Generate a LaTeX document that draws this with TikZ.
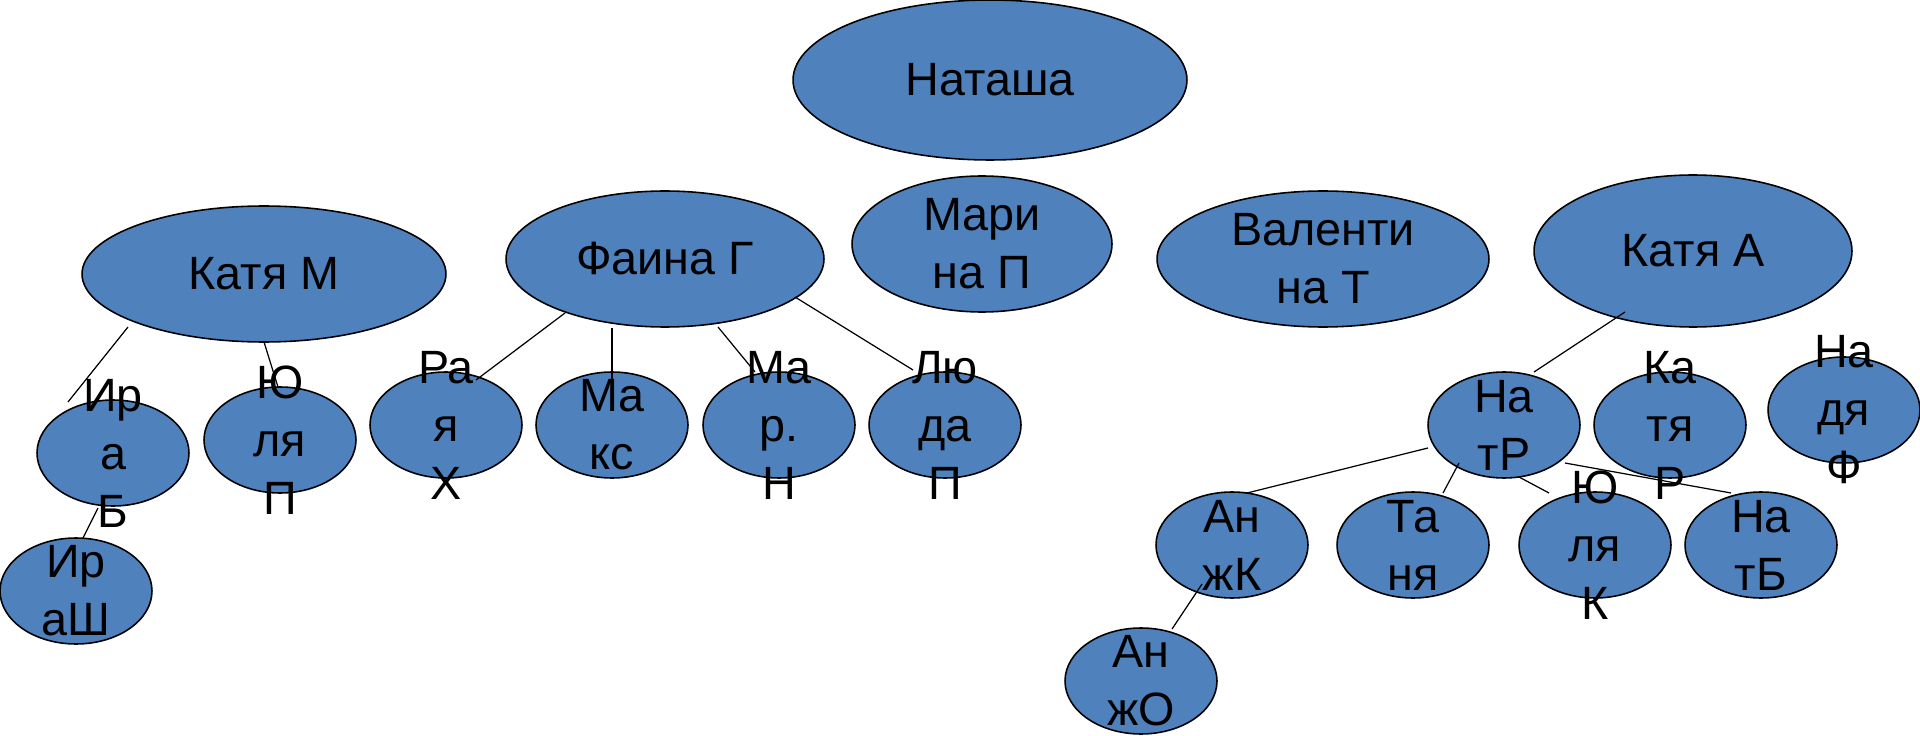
\documentclass[tikz,border=0pt]{standalone}
\usepackage{fontspec}
\setmainfont{Liberation Sans}
\usetikzlibrary{shapes.geometric}
\definecolor{girlblue}{HTML}{4F81BD}
\newcommand{\namefont}{\fontsize{26.6}{33}\selectfont}
\tikzset{
  girl/.style={ellipse, draw=black, fill=girlblue, line width=0.9pt, inner sep=0pt, outer sep=0pt},
  kid/.style={girl, minimum width=3.04cm, minimum height=2.12cm},
  nm/.style={font=\namefont, align=center, inner sep=0pt},
  link/.style={line width=0.7pt}
}
\begin{document}
\begin{tikzpicture}[x=0.02cm, y=-0.02cm]
\useasboundingbox (0,0) rectangle (1920,736);

% top
\node[girl, minimum width=7.88cm, minimum height=3.2cm] (natasha) at (990,80) {};
\node[nm] (natashaT) at (natasha) {Наташа};

% friends
\node[girl, minimum width=7.28cm, minimum height=2.72cm] (katyaM) at (264,274) {};
\node[girl, minimum width=6.36cm, minimum height=2.72cm] (faina) at (665,259) {};
\node[girl, minimum width=5.2cm, minimum height=2.72cm] (marina) at (982,244) {};
\node[girl, minimum width=6.64cm, minimum height=2.72cm] (valentina) at (1323,259) {};
\node[girl, minimum width=6.36cm, minimum height=3.04cm] (katyaA) at (1693,251) {};
\node[nm] (katyaMT) at (katyaM) {Катя М};
\node[nm] (fainaT) at (faina) {Фаина Г};
\node[nm] (marinaT) at (marina) {Мари\\на П};
\node[nm] (valentinaT) at (valentina) {Валенти\\на Т};
\node[nm] (katyaAT) at (katyaA) {Катя А};

% under Katya M
\node[kid] (iraB) at (113,453) {};
\node[kid] (yulyaP) at (280,440) {};
\node[kid] (iraSh) at (76,591) {};
\node[nm] (iraBT) at (iraB) {Ир\\а\\Б};
\node[nm] (yulyaPT) at (yulyaP) {Ю\\ля\\П};
\node[nm] (iraShT) at (iraSh) {Ир\\аШ};

% under Faina
\node[kid] (raya) at (446,425) {};
\node[kid] (maks) at (612,425) {};
\node[kid] (marN) at (779,425) {};
\node[kid] (lyuda) at (945,425) {};
\node[nm] (rayaT) at (raya) {Ра\\я\\Х};
\node[nm] (maksT) at (maks) {Ма\\кс};
\node[nm] (marNT) at (marN) {Ма\\р.\\Н};
\node[nm] (lyudaT) at (lyuda) {Лю\\да\\П};

% under Katya A
\node[kid] (natR) at (1504,425) {};
\node[kid] (katyaR) at (1670,425) {};
\node[kid] (nadya) at (1844,410) {};
\node[kid] (anzhK) at (1232,545) {};
\node[kid] (tanya) at (1413,545) {};
\node[kid] (yulyaK) at (1595,545) {};
\node[kid] (natB) at (1761,545) {};
\node[kid] (anzhO) at (1141,681) {};
\node[nm] (natRT) at (natR) {На\\тР};
\node[nm] (katyaRT) at (katyaR) {Ка\\тя\\Р};
\node[nm] (nadyaT) at (nadya) {На\\дя\\Ф};
\node[nm] (anzhKT) at (anzhK) {Ан\\жК};
\node[nm] (tanyaT) at (tanya) {Та\\ня};
\node[nm] (yulyaKT) at (yulyaK) {Ю\\ля\\К};
\node[nm] (natBT) at (natB) {На\\тБ};
\node[nm] (anzhOT) at (anzhO) {Ан\\жО};

% links
\draw[link] ([shift={(-136,53)}]katyaM.center) -- ([shift={(-45,-51)}]iraB.center);
\draw[link] (katyaM.south) -- ([shift={(-2,-53)}]yulyaP.center);
\draw[link] ([shift={(-15,55)}]iraB.center) -- ([shift={(7,-53)}]iraSh.center);
\draw[link] ([shift={(-100,54)}]faina.center) -- ([shift={(30,-45)}]raya.center);
\draw[link] ([shift={(-53,69)}]faina.center) -- ([shift={(0,-44)}]maks.center);
\draw[link] ([shift={(53,68)}]faina.center) -- ([shift={(-24,-53)}]marN.center);
\draw[link] ([shift={(130,38)}]faina.center) -- ([shift={(-32,-55)}]lyuda.center);
\draw[link] ([shift={(-68,61)}]katyaA.center) -- ([shift={(30,-53)}]natR.center);
\draw[link] ([shift={(-76,23)}]natR.center) -- ([shift={(15,-52)}]anzhK.center);
\draw[link] ([shift={(-45,38)}]natR.center) -- ([shift={(30,-52)}]tanya.center);
\draw[link] ([shift={(15,52)}]natR.center) -- ([shift={(-46,-52)}]yulyaK.center);
\draw[link] ([shift={(61,38)}]natR.center) -- ([shift={(-30,-52)}]natB.center);
\draw[link] ([shift={(-30,39)}]anzhK.center) -- ([shift={(31,-52)}]anzhO.center);
\end{tikzpicture}
\end{document}
